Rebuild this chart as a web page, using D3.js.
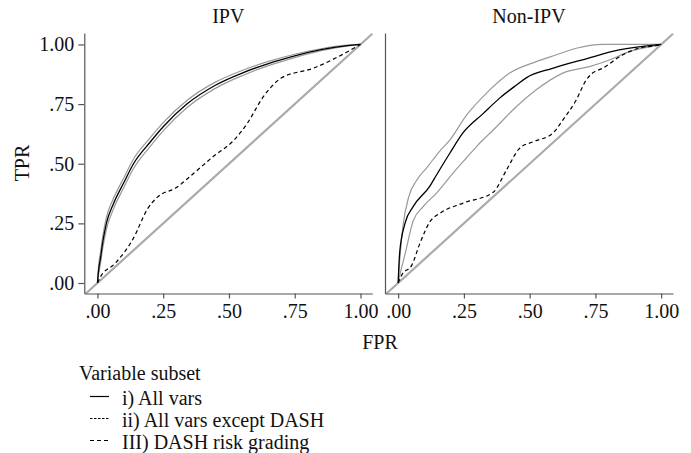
<!DOCTYPE html>
<html>
<head>
<meta charset="utf-8">
<script src="https://cdn.jsdelivr.net/npm/d3@7"></script>
<style>
	body { margin: 0; background: #fff; }
	text { font-family: "Liberation Serif", serif; fill: #111; }
</style>
</head>
<body>
<svg width="691" height="453"></svg>
<script>
// tick values and labels
const ticks = [0, 0.25, 0.5, 0.75, 1];
const tickLabels = [".00", ".25", ".50", ".75", "1.00"];

const panelTitles = ["IPV", "Non-IPV"];
const legendLabels = ["i) All vars", "ii) All vars except DASH", "III) DASH risk grading"];

// IPV: i) all vars and its band
const ipvAllFpr = [0, 0.005, 0.011, 0.02, 0.034, 0.06, 0.1, 0.137, 0.2, 0.25, 0.34, 0.45, 0.55, 0.65, 0.75, 0.85, 0.95, 1];
const ipvAllTpr = [0, 0.06, 0.1, 0.17, 0.25, 0.33, 0.42, 0.5, 0.59, 0.655, 0.75, 0.83, 0.88, 0.92, 0.952, 0.978, 0.995, 1];
const ipvHiTpr  = [0, 0.08, 0.125, 0.195, 0.275, 0.352, 0.44, 0.52, 0.608, 0.672, 0.765, 0.843, 0.891, 0.929, 0.959, 0.982, 0.997, 1];
const ipvLoTpr  = [0, 0.04, 0.078, 0.145, 0.225, 0.308, 0.4, 0.48, 0.572, 0.638, 0.735, 0.817, 0.869, 0.911, 0.945, 0.974, 0.993, 1];

// IPV: III) DASH risk grading
const ipvDashFpr = [0, 0.011, 0.068, 0.137, 0.19, 0.228, 0.3, 0.366, 0.44, 0.52, 0.57, 0.63, 0.7, 0.82, 0.9, 1];
const ipvDashTpr = [0, 0.025, 0.083, 0.188, 0.31, 0.36, 0.4, 0.46, 0.53, 0.6, 0.67, 0.78, 0.86, 0.9, 0.94, 1];

// Non-IPV: i) all vars and its band
const nonAllFpr = [0, 0.006, 0.026, 0.057, 0.12, 0.147, 0.197, 0.247, 0.323, 0.386, 0.45, 0.487, 0.587, 0.715, 0.84, 0.98, 1];
const nonAllTpr = [0, 0.13, 0.25, 0.32, 0.405, 0.455, 0.545, 0.63, 0.71, 0.775, 0.83, 0.86, 0.9, 0.94, 0.977, 0.998, 1];
const nonHiFpr = [0, 0.006, 0.018, 0.04, 0.07, 0.11, 0.16, 0.197, 0.26, 0.336, 0.424, 0.525, 0.6, 0.677, 0.777, 1];
const nonHiTpr = [0, 0.097, 0.236, 0.36, 0.43, 0.485, 0.555, 0.6, 0.704, 0.796, 0.88, 0.928, 0.956, 0.984, 1, 1];
const nonLoFpr = [0, 0.012, 0.026, 0.057, 0.095, 0.146, 0.208, 0.26, 0.298, 0.374, 0.45, 0.525, 0.626, 0.727, 0.803, 0.879, 0.98, 1];
const nonLoTpr = [0, 0.06, 0.12, 0.26, 0.32, 0.377, 0.46, 0.525, 0.572, 0.655, 0.74, 0.81, 0.88, 0.907, 0.935, 0.97, 0.995, 1];

// Non-IPV: III) DASH risk grading
const nonDashFpr = [0, 0.014, 0.052, 0.083, 0.121, 0.16, 0.247, 0.361, 0.412, 0.462, 0.513, 0.588, 0.626, 0.677, 0.715, 0.739, 0.777, 0.853, 0.917, 0.98, 1];
const nonDashTpr = [0, 0.034, 0.075, 0.167, 0.257, 0.293, 0.335, 0.38, 0.474, 0.565, 0.592, 0.628, 0.683, 0.767, 0.851, 0.88, 0.9, 0.956, 0.985, 0.995, 1];

function pts(xs, ys) {
	return xs.map((x, i) => [x, ys[i]]);
}

const panels = [
	{
		title: panelTitles[0], left: 84.3,
		band: [pts(ipvAllFpr, ipvHiTpr), pts(ipvAllFpr, ipvLoTpr)],
		all: pts(ipvAllFpr, ipvAllTpr),
		dash: pts(ipvDashFpr, ipvDashTpr),
	},
	{
		title: panelTitles[1], left: 385,
		band: [pts(nonHiFpr, nonHiTpr), pts(nonLoFpr, nonLoTpr)],
		all: pts(nonAllFpr, nonAllTpr),
		dash: pts(nonDashFpr, nonDashTpr),
	},
];

const svg = d3.select("svg");
const pw = 288;
const y = d3.scaleLinear().domain([-0.044, 1.048]).range([293.5, 33]);
const axisColor = "#555";

panels.forEach((p, pi) => {
	const x = d3.scaleLinear().domain([-0.05, 1.045]).range([p.left, p.left + pw]);
	const line = d3.line()
		.x(d => x(d[0]))
		.y(d => y(d[1]))
		.curve(d3.curveMonotoneX);

	const g = svg.append("g");

	// reference diagonal
	g.append("path")
		.attr("d", d3.line().x(d => x(d)).y(d => y(d))([-0.044, 1.045]))
		.attr("stroke", "#aaa")
		.attr("stroke-width", 2.2)
		.attr("fill", "none");

	for (const b of p.band) {
		g.append("path")
			.attr("d", line(b))
			.attr("stroke", "#999")
			.attr("stroke-width", 1.2)
			.attr("fill", "none");
	}

	g.append("path")
		.attr("d", line(p.all))
		.attr("stroke", "#000")
		.attr("stroke-width", 1.3)
		.attr("fill", "none");

	g.append("path")
		.attr("d", line(p.dash))
		.attr("stroke", "#000")
		.attr("stroke-width", 1.2)
		.attr("stroke-dasharray", "4,3")
		.attr("fill", "none");

	// axes
	const xAxis = g.append("g")
		.attr("transform", "translate(0,293.5)")
		.call(d3.axisBottom(x).tickValues(ticks).tickSize(5).tickSizeOuter(0)
			.tickFormat((d, i) => tickLabels[i]));
	xAxis.selectAll("text").attr("font-size", 20).attr("y", 24.5).attr("dy", 0)
		.style("font-family", "Liberation Serif");

	const yAxis = g.append("g")
		.attr("transform", `translate(${p.left},0)`)
		.call(d3.axisLeft(y).tickValues(pi === 0 ? ticks : []).tickSize(6).tickSizeOuter(0)
			.tickFormat((d, i) => tickLabels[i]));
	yAxis.selectAll("text").attr("font-size", 20).attr("x", -10)
		.style("font-family", "Liberation Serif");

	svg.selectAll(".domain, .tick line").attr("stroke", axisColor).attr("stroke-width", 1.2);
	svg.selectAll(".tick text").attr("fill", "#111");

	g.append("text")
		.attr("x", p.left + pw / 2)
		.attr("y", 23)
		.attr("text-anchor", "middle")
		.attr("font-size", 20)
		.text(p.title);
});

svg.append("text")
	.attr("transform", "translate(28.5,163) rotate(-90)")
	.attr("text-anchor", "middle")
	.attr("font-size", 20)
	.text("TPR");

svg.append("text")
	.attr("x", 380)
	.attr("y", 349)
	.attr("text-anchor", "middle")
	.attr("font-size", 20)
	.text("FPR");

// legend
const lg = svg.append("g");
lg.append("text")
	.attr("x", 79)
	.attr("y", 380)
	.attr("font-size", 20)
	.text("Variable subset");

const dashes = [null, "2.5,1.5", "4,3"];
legendLabels.forEach((lab, i) => {
	const yy = 404.5 + i * 22;
	lg.append("line")
		.attr("x1", 90).attr("x2", 109)
		.attr("y1", yy - 8).attr("y2", yy - 8)
		.attr("stroke", "#000")
		.attr("stroke-width", 1.2)
		.attr("stroke-dasharray", dashes[i]);
	lg.append("text")
		.attr("x", 122)
		.attr("y", yy)
		.attr("font-size", 20)
		.text(lab);
});
</script>
</body>
</html>
